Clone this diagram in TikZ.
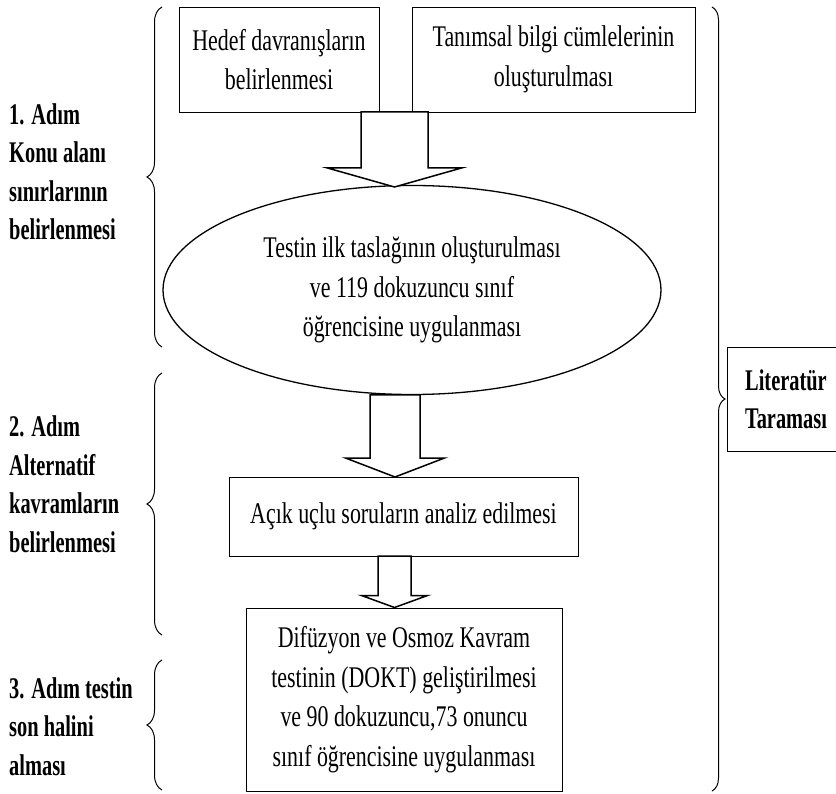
\documentclass[tikz,border=0pt]{standalone}
\usepackage{fontspec}
\setmainfont{Liberation Serif}
\newfontfamily\boxfont{Liberation Serif}[FakeStretch=0.73]
\newfontfamily\stepfont{Liberation Serif}[FakeStretch=0.68]
\usetikzlibrary{shapes.geometric,decorations.pathreplacing,calc}

% hollow block arrow: start, tip, shaft half width, head half width, head length
\newcommand{\blockarrow}[5]{%
  \draw[blockarr] ($(#1)+(-#3,0)$) -- ($(#1)+(#3,0)$) -- ($(#2)+(#3,-#5)$)
    -- ($(#2)+(#4,-#5)$) -- (#2) -- ($(#2)+(-#4,-#5)$) -- ($(#2)+(-#3,-#5)$) -- cycle;}

\begin{document}
\begin{tikzpicture}[x=1pt, y=-1pt]
%styles
\tikzstyle{box}=[draw, line width=0.9pt, inner sep=0pt, align=center, font=\boxfont\fontsize{30}{39.5}\selectfont]
\tikzstyle{stepText}=[inner sep=0pt, anchor=base west, align=left, font=\stepfont\bfseries\fontsize{30}{38.5}\selectfont]
\tikzstyle{brace}=[decorate, decoration={brace, amplitude=15pt}, line width=1pt]
\tikzstyle{blockarr}=[fill=white, line width=1.5pt, line join=miter]
\clip (0,0) rectangle (836,794);
%boxes
\node[box, minimum width=200, minimum height=105] (hedef) at (279,59.5) {Hedef davranışların\\belirlenmesi};
\node[box, minimum width=283, minimum height=105] (tanim) at (553.5,59.5) {Tanımsal bilgi cümlelerinin\\oluşturulması};
\node[box, ellipse, line width=1.3pt, minimum width=498, minimum height=209] (taslak) at (412,290) {Testin ilk taslağının oluşturulması\\ve 119 dokuzuncu sınıf\\öğrencisine uygulanması};
\node[box, minimum width=349, minimum height=79] (analiz) at (403.5,516.5) {Açık uçlu soruların analiz edilmesi};
\node[box, minimum width=316, minimum height=183] (dokt) at (404,699.5) {Difüzyon ve Osmoz Kavram\\testinin (DOKT) geliştirilmesi\\ve 90 dokuzuncu,73 onuncu\\sınıf öğrencisine uygulanması};
\node[box, font=\stepfont\bfseries\fontsize{30}{38.5}\selectfont, minimum width=118, minimum height=104] (lit) at (786,399) {Literatür\\Taraması};
%arrows
\coordinate (a1top) at (394.5,112);
\coordinate (a1tip) at (394.5,187);
\coordinate (a2top) at (395,395);
\coordinate (a2tip) at (395,477);
\coordinate (a3top) at (394.5,556);
\coordinate (a3tip) at (394.5,607.5);
\blockarrow{a1top}{a1tip}{33.5}{67}{19}
\blockarrow{a2top}{a2tip}{25}{49.5}{19}
\blockarrow{a3top}{a3tip}{16.5}{33}{12}
%steps (base = last line)
\node[stepText] (adim1) at (9,240) {1. Adım\\Konu alanı\\sınırlarının\\belirlenmesi};
\node[stepText] (adim2) at (9,552) {2. Adım\\Alternatif\\kavramların\\belirlenmesi};
\node[stepText] (adim3) at (9,775) {3. Adım testin\\son halini\\alması};
%braces
\draw[brace] (162,347) -- (162,7);
\draw[brace] (162,635) -- (162,373);
\draw[brace] (162,790) -- (162,660);
\draw[brace, decoration={amplitude=13pt}] (712,7) -- (712,791);
\end{tikzpicture}
\end{document}
